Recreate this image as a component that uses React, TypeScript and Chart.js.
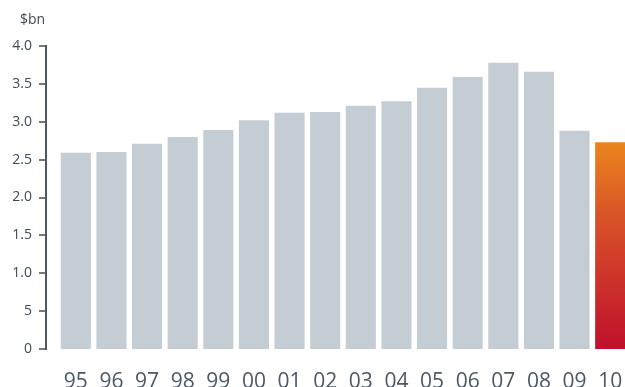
import React, { useEffect, useRef } from "react";
import { Chart, registerables } from "chart.js";

Chart.register(...registerables);

// Annual figures, $bn
const years = ["95", "96", "97", "98", "99", "00", "01", "02", "03", "04", "05", "06", "07", "08", "09", "10"];
const values = [2.59, 2.6, 2.71, 2.8, 2.89, 3.02, 3.12, 3.13, 3.21, 3.27, 3.45, 3.59, 3.78, 3.66, 2.88, 2.73];
const yTickValues = [0, 0.5, 1, 1.5, 2, 2.5, 3, 3.5, 4];
const yTickLabels = ["0", "5", "1.0", "1.5", "2.0", "2.5", "3.0", "3.5", "4.0"];
const unitLabel = "$bn";

const FONT = "'Open Sans', 'Noto Sans', sans-serif";
const GREY = "#c5cdd4";
const AXIS = "#4b5965";
const TEXT = "#3e4b56";

// Left axis drawn as a detached line with outward ticks, plus the unit label
const axisPlugin = {
  id: "detachedAxis",
  afterDraw(chart: any) {
    const { ctx, scales } = chart;
    const y = scales.y;
    const axisX = 46;
    const top = y.getPixelForValue(yTickValues[yTickValues.length - 1]);
    const bottom = y.getPixelForValue(0);
    ctx.save();
    ctx.strokeStyle = AXIS;
    ctx.lineWidth = 2;
    ctx.beginPath();
    ctx.moveTo(axisX, top - 1);
    ctx.lineTo(axisX, bottom + 1);
    ctx.stroke();
    ctx.lineWidth = 1.6;
    yTickValues.forEach((v) => {
      const py = Math.round(y.getPixelForValue(v));
      ctx.beginPath();
      ctx.moveTo(39, py);
      ctx.lineTo(axisX + 1, py);
      ctx.stroke();
    });
    ctx.fillStyle = TEXT;
    ctx.font = `14px ${FONT}`;
    ctx.textAlign = "left";
    ctx.textBaseline = "alphabetic";
    ctx.fillText(unitLabel, 20, 24);
    ctx.restore();
  },
};

export default function App() {
  const canvasRef = useRef<HTMLCanvasElement | null>(null);

  useEffect(() => {
    const canvas = canvasRef.current;
    if (!canvas) return;
    const lastIndex = values.length - 1;
    const chart = new Chart(canvas, {
      type: "bar",
      data: {
        labels: years,
        datasets: [
          {
            data: values,
            backgroundColor: (c: any) => {
              if (c.dataIndex !== lastIndex) return GREY;
              const area = c.chart.chartArea;
              if (!area) return "#d9502a";
              const ys = c.chart.scales.y;
              const g = c.chart.ctx.createLinearGradient(0, ys.getPixelForValue(values[lastIndex]), 0, ys.getPixelForValue(0));
              g.addColorStop(0, "#ea861d");
              g.addColorStop(0.35, "#d95428");
              g.addColorStop(1, "#c0102d");
              return g;
            },
            borderWidth: 0,
            barPercentage: 0.845,
            categoryPercentage: 1,
          },
        ],
      },
      options: {
        animation: false,
        responsive: false,
        maintainAspectRatio: false,
        layout: { padding: { top: 46, right: 2, bottom: 0, left: 0 } },
        plugins: {
          legend: { display: false },
          tooltip: { enabled: false },
        },
        scales: {
          x: {
            grid: { display: false, drawTicks: false },
            border: { display: false },
            ticks: {
              color: "#4b5966",
              font: { family: FONT, size: 21 },
              padding: 20,
              maxRotation: 0,
              minRotation: 0,
              autoSkip: false,
            },
            afterFit(scale: any) {
              scale.height = 51;
              scale.paddingLeft = 0;
              scale.paddingRight = 0;
            },
          },
          y: {
            min: 0,
            max: 4,
            grid: { display: false, drawTicks: false },
            border: { display: false },
            afterBuildTicks(scale: any) {
              scale.ticks = yTickValues.map((v) => ({ value: v }));
            },
            ticks: {
              color: TEXT,
              font: { family: FONT, size: 14 },
              padding: 26,
              callback: (v: any) => {
                const i = yTickValues.indexOf(Number(v));
                return i >= 0 ? yTickLabels[i] : "";
              },
            },
            afterFit(scale: any) {
              scale.width = 58;
              scale.paddingTop = 0;
              scale.paddingBottom = 0;
            },
          },
        },
      },
      plugins: [axisPlugin],
    });
    return () => chart.destroy();
  }, []);

  return (
    <div style={{ position: "fixed", left: 0, top: 0, width: 625, height: 387, overflow: "hidden", background: "#fff" }}>
      <canvas ref={canvasRef} width={630} height={400} style={{ display: "block", width: 630, height: 400 }} />
    </div>
  );
}
